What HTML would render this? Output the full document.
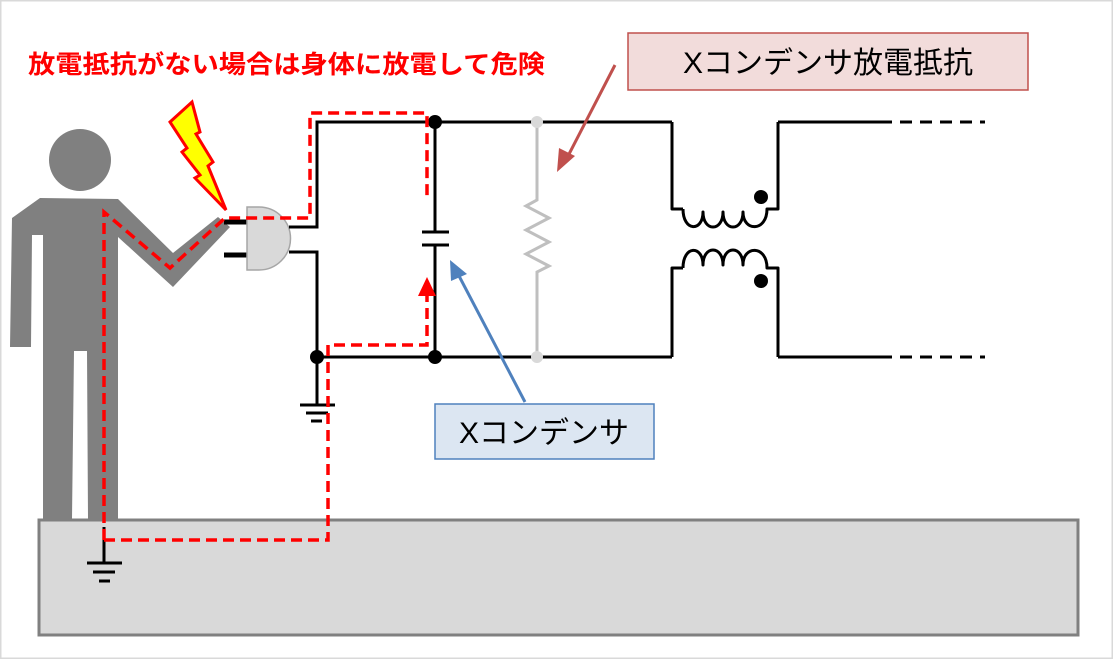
<!DOCTYPE html>
<html><head><meta charset="utf-8"><style>
body{margin:0;background:#fff;}
svg{display:block}
text{font-family:"Liberation Sans","Noto Sans CJK JP",sans-serif;}
</style></head><body>
<svg width="1113" height="659" viewBox="0 0 1113 659">
<rect x="0.5" y="0.5" width="1112" height="658" fill="#fff" stroke="#d9d9d9" stroke-width="2"/>
<!-- ground block -->
<rect x="39" y="520" width="1039" height="115" fill="#d9d9d9" stroke="#808080" stroke-width="3"/>
<!-- person -->
<circle cx="80" cy="160" r="31" fill="#808080"/>
<polygon fill="#808080" points="12,218 40,198 118,199 173,253 218,217 230,227 173,287 118,237 118,519 88,519 87,351 74,351 72,519 43,519 43,235 32,235 31,347 10,347"/>
<!-- person ground -->
<g stroke="#000" stroke-width="3">
<line x1="104" y1="527" x2="104" y2="563"/>
<line x1="87" y1="563" x2="122" y2="563"/>
<line x1="93" y1="572" x2="115" y2="572"/>
<line x1="99" y1="581" x2="110" y2="581"/>
</g>
<!-- lightning -->
<polygon fill="#ffff00" stroke="#ff0000" stroke-width="3" stroke-linejoin="miter" points="170,122 192,102 200,132 196,134 213,162 208,166 226,210 195,178 200,175 182,152 187,148"/>
<!-- plug -->
<line x1="224" y1="222" x2="248" y2="222" stroke="#000" stroke-width="5"/>
<line x1="224" y1="255" x2="248" y2="255" stroke="#000" stroke-width="5"/>
<path d="M247,207 L259,207 A31,31 0 0 1 259,270 L247,270 Z" fill="#d9d9d9" stroke="#a6a6a6" stroke-width="1.5"/>
<!-- circuit -->
<g stroke="#000" stroke-width="3" fill="none">
<polyline points="289,227 317,227 317,122 672,122"/>
<polyline points="289,252 317,252 317,357 672,357"/>
<line x1="778" y1="122" x2="880" y2="122"/>
<line x1="778" y1="357" x2="880" y2="357"/>
<line x1="317" y1="357" x2="317" y2="405"/>
<line x1="300" y1="405" x2="335" y2="405"/>
<line x1="306" y1="413" x2="328" y2="413"/>
<line x1="311" y1="421" x2="322" y2="421"/>
<line x1="435" y1="122" x2="435" y2="232"/>
<line x1="435" y1="245" x2="435" y2="357"/>
<line x1="422" y1="232" x2="449" y2="232"/>
<line x1="422" y1="245" x2="449" y2="245"/>
<line x1="880" y1="122" x2="985" y2="122" stroke-dasharray="12,8"/>
<line x1="880" y1="357" x2="985" y2="357" stroke-dasharray="12,8"/>
</g>
<g stroke="#000" stroke-width="3" fill="none" stroke-linejoin="round">
<polyline points="672,122 672,209 683,209"/>
<path d="M683,209 C683,232 703,232 703,212 C703,232 723,232 723,212 C723,232 743,232 743,212 C743,232 767,232 767,209 L778,209 L778,122"/>
<polyline points="672,357 672,268 683,268"/>
<path d="M683,268 C683,245 703,245 703,265 C703,245 723,245 723,265 C723,245 743,245 743,265 C743,245 767,245 767,268 L778,268 L778,357"/>
</g>
<circle cx="761" cy="197" r="7" fill="#000"/>
<circle cx="761" cy="281" r="7" fill="#000"/>
<!-- resistor -->
<polyline points="537,122 537,200 526,206 549,218 526,230 549,242 526,254 549,266 537,272 537,357" fill="none" stroke="#bfbfbf" stroke-width="3"/>
<circle cx="537" cy="122" r="6" fill="#d9d9d9"/>
<circle cx="537" cy="357" r="6" fill="#d9d9d9"/>
<circle cx="317" cy="357" r="7" fill="#000"/>
<circle cx="435" cy="122" r="7" fill="#000"/>
<circle cx="435" cy="357" r="7" fill="#000"/>
<!-- red dashed path -->
<g stroke="#ff0000" stroke-width="3.5" fill="none" stroke-dasharray="11,6">
<polyline points="104,540 104,212 170,268 225,218 310,218 310,113 427,113 427,198"/>
<polyline points="104,540 328,540 328,345 427,345 427,292"/>
</g>
<polygon points="418,296 436,296 427,277" fill="#ff0000"/>
<!-- arrows -->
<line x1="615" y1="65" x2="567" y2="158" stroke="#c0504d" stroke-width="3"/>
<polygon points="557,172 559,148 575,156" fill="#c0504d"/>
<line x1="525" y1="402" x2="458" y2="274" stroke="#4f81bd" stroke-width="3"/>
<polygon points="450,260 467,274 451,281" fill="#4f81bd"/>
<!-- labels -->
<rect x="628" y="33" width="400" height="57" fill="#f2dcdb" stroke="#c0504d" stroke-width="1.5"/>
<text x="828" y="73" font-size="30" text-anchor="middle" fill="#000">Xコンデンサ放電抵抗</text>
<rect x="435" y="404" width="219" height="55" fill="#dce6f2" stroke="#4f81bd" stroke-width="1.5"/>
<text x="544" y="443" font-size="30" text-anchor="middle" fill="#000">Xコンデンサ</text>
<text x="28" y="73" font-size="25" font-weight="bold" fill="#ff0000" textLength="517" lengthAdjust="spacingAndGlyphs">放電抵抗がない場合は身体に放電して危険</text>
</svg>
</body></html>
